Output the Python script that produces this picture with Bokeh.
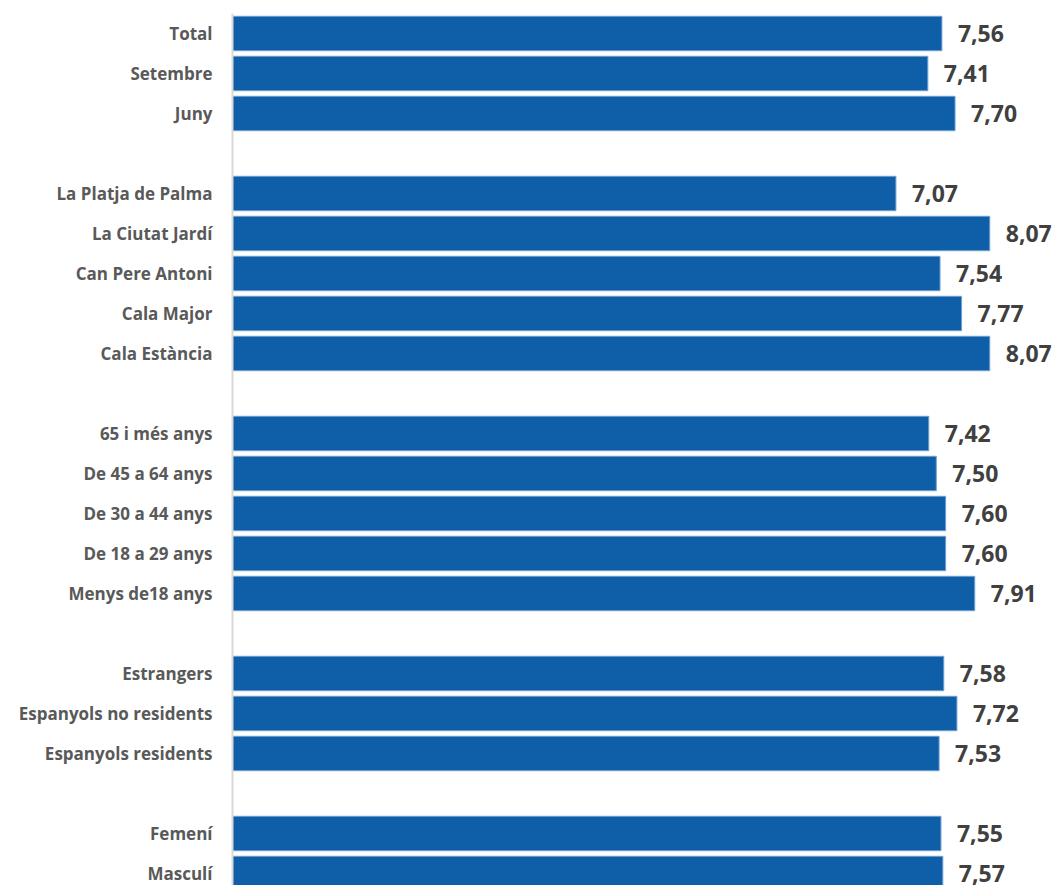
from bokeh.plotting import figure
from bokeh.models import ColumnDataSource, Range1d, FixedTicker
from bokeh.embed import file_html
from bokeh.resources import INLINE
from bokeh.core.properties import value

# Data
categories = ["Total", "Setembre", "Juny",
              "La Platja de Palma", "La Ciutat Jardí", "Can Pere Antoni", "Cala Major", "Cala Estància",
              "65 i més anys", "De 45 a 64 anys", "De 30 a 44 anys", "De 18 a 29 anys", "Menys de18 anys",
              "Estrangers", "Espanyols no residents", "Espanyols residents",
              "Femení", "Masculí"]
values = [7.56, 7.41, 7.70,
          7.07, 8.07, 7.54, 7.77, 8.07,
          7.42, 7.50, 7.60, 7.60, 7.91,
          7.58, 7.72, 7.53,
          7.55, 7.57]
group_sizes = [3, 5, 5, 3, 2]

# slot positions (one empty slot between groups)
positions = []
slot = 0
for g in group_sizes:
    for _ in range(g):
        positions.append(slot)
        slot += 1
    slot += 1

labels = [f"{v:.2f}".replace(".", ",") for v in values]
src = ColumnDataSource(dict(y=positions, v=values, lab=labels, cat=categories))

p = figure(width=1054, height=885, output_backend="svg", toolbar_location=None,
           x_range=Range1d(0, 8.76), y_range=Range1d(21.3, -0.5),
           min_border_left=232, min_border_top=13, min_border_bottom=0, min_border_right=0)

p.hbar(y="y", right="v", left=0, height=0.86, source=src,
       fill_color="#0f5ea8", line_color="#6fa0d2", line_width=1)

p.text(x="v", y="y", text="lab", source=src, x_offset=16, y_offset=0,
       text_baseline="middle", text_align="left",
       text_font=value("Open Sans"), text_font_style="bold",
       text_font_size="23px", text_color="#404040")

p.xaxis.visible = False
p.xgrid.visible = False
p.ygrid.visible = False
p.outline_line_color = None

ya = p.yaxis[0]
ya.ticker = FixedTicker(ticks=positions)
ya.major_label_overrides = {pos: c for pos, c in zip(positions, categories)}
ya.major_tick_line_color = None
ya.minor_tick_line_color = None
ya.axis_line_color = "#d9d9d9"
ya.axis_line_width = 2
ya.major_label_standoff = 14
ya.major_label_text_font = "Open Sans"
ya.major_label_text_font_style = "bold"
ya.major_label_text_font_size = "17px"
ya.major_label_text_color = "#595959"

open("out.html", "w").write(file_html(p, INLINE))
